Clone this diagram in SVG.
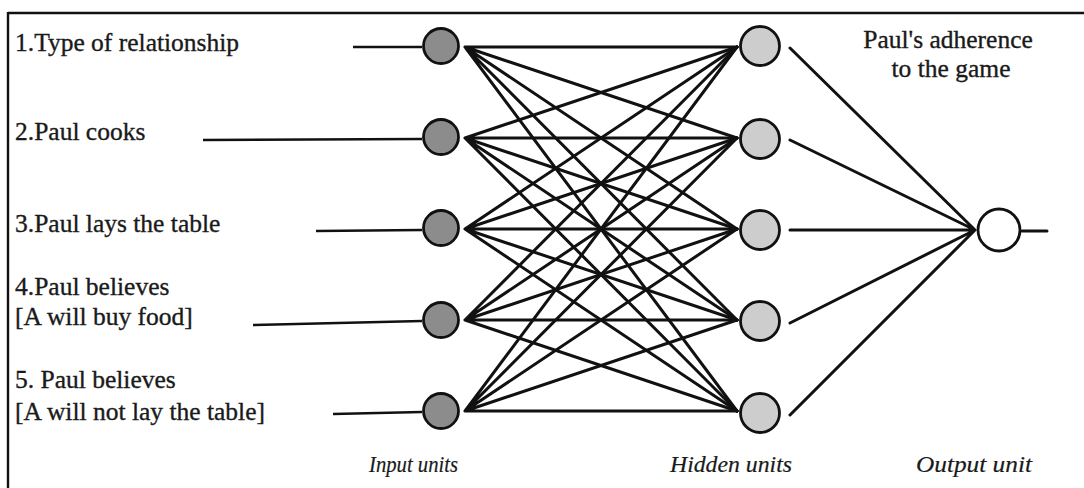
<svg xmlns="http://www.w3.org/2000/svg" width="1084" height="488" viewBox="0 0 1084 488">
<style>
text{font-family:'Liberation Serif','Times New Roman','DejaVu Serif',serif;fill:#1a1a1a;stroke:#1a1a1a;stroke-width:0.35}
.lbl{font-size:25.5px}
.cap{font-size:24px;font-style:italic;stroke-width:0.2}
.edge{stroke:#111;stroke-width:3;fill:none;stroke-linecap:round}
.in{stroke:#111;stroke-width:2.4;fill:none}
.inode{fill:#8c8c8c;stroke:#111;stroke-width:2.8}
.hnode{fill:#cdcdcd;stroke:#111;stroke-width:2.8}
.onode{fill:#fff;stroke:#111;stroke-width:2.8}
</style>
<rect width="1084" height="488" fill="#fff"/>
<g id="frame">
<line x1="8" y1="13" x2="1084" y2="13" stroke="#111" stroke-width="2.4"/>
<line x1="8" y1="12" x2="8" y2="488" stroke="#111" stroke-width="2.4"/>
</g>
<g id="labels" font-family="Liberation Serif, Times New Roman, serif">
<text class="lbl" x="15" y="51">1.Type of relationship</text>
<text class="lbl" x="15" y="140">2.Paul cooks</text>
<text class="lbl" x="15" y="232">3.Paul lays the table</text>
<text class="lbl" x="15" y="295">4.Paul believes</text>
<text class="lbl" x="15" y="325">[A will buy food]</text>
<text class="lbl" x="15" y="388">5. Paul believes</text>
<text class="lbl" x="15" y="420">[A will not lay the table]</text>
<text class="lbl" x="948" y="48" text-anchor="middle">Paul's adherence</text>
<text class="lbl" x="951" y="77" text-anchor="middle">to the game</text>
<text class="cap" x="369" y="472" textLength="89" lengthAdjust="spacingAndGlyphs">Input units</text>
<text class="cap" x="670" y="472" textLength="122" lengthAdjust="spacingAndGlyphs">Hidden units</text>
<text class="cap" x="916" y="472" textLength="116" lengthAdjust="spacingAndGlyphs">Output unit</text>
</g>
<g id="connectors">
<line class="in" x1="353" y1="47" x2="422" y2="47"/>
<line class="in" x1="203" y1="140" x2="422" y2="139"/>
<line class="in" x1="316" y1="231" x2="422" y2="230"/>
<line class="in" x1="253" y1="325" x2="422" y2="321"/>
<line class="in" x1="333" y1="414" x2="422" y2="412"/>
<g id="input-hidden">
<path class="edge" d="M465 47L737 47M465 47L737 138M465 47L737 229M465 47L737 320M465 47L737 411"/>
<path class="edge" d="M465 138L737 47M465 138L737 138M465 138L737 229M465 138L737 320M465 138L737 411"/>
<path class="edge" d="M465 229L737 47M465 229L737 138M465 229L737 229M465 229L737 320M465 229L737 411"/>
<path class="edge" d="M465 320L737 47M465 320L737 138M465 320L737 229M465 320L737 320M465 320L737 411"/>
<path class="edge" d="M465 411L737 47M465 411L737 138M465 411L737 229M465 411L737 320M465 411L737 411"/>
</g>
<g id="hidden-output">
<path class="edge" d="M790 48L975 230M790 140L975 230M790 230L975 230M790 323L975 230M790 415L975 230"/>
</g>
<line class="edge" x1="1022" y1="231" x2="1047" y2="231"/>
</g>
<g id="input1"><circle class="inode" cx="441" cy="46" r="17.5"/></g>
<g id="input2"><circle class="inode" cx="441" cy="137" r="17.5"/></g>
<g id="input3"><circle class="inode" cx="441" cy="228" r="17.5"/></g>
<g id="input4"><circle class="inode" cx="441" cy="320" r="17.5"/></g>
<g id="input5"><circle class="inode" cx="441" cy="411" r="17.5"/></g>
<g id="hidden1"><circle class="hnode" cx="760" cy="46" r="19.5"/></g>
<g id="hidden2"><circle class="hnode" cx="760" cy="139" r="19.5"/></g>
<g id="hidden3"><circle class="hnode" cx="760" cy="230" r="19.5"/></g>
<g id="hidden4"><circle class="hnode" cx="760" cy="321" r="19.5"/></g>
<g id="hidden5"><circle class="hnode" cx="760" cy="413" r="19.5"/></g>
<g id="output"><circle class="onode" cx="999" cy="230" r="21"/></g>
</svg>
